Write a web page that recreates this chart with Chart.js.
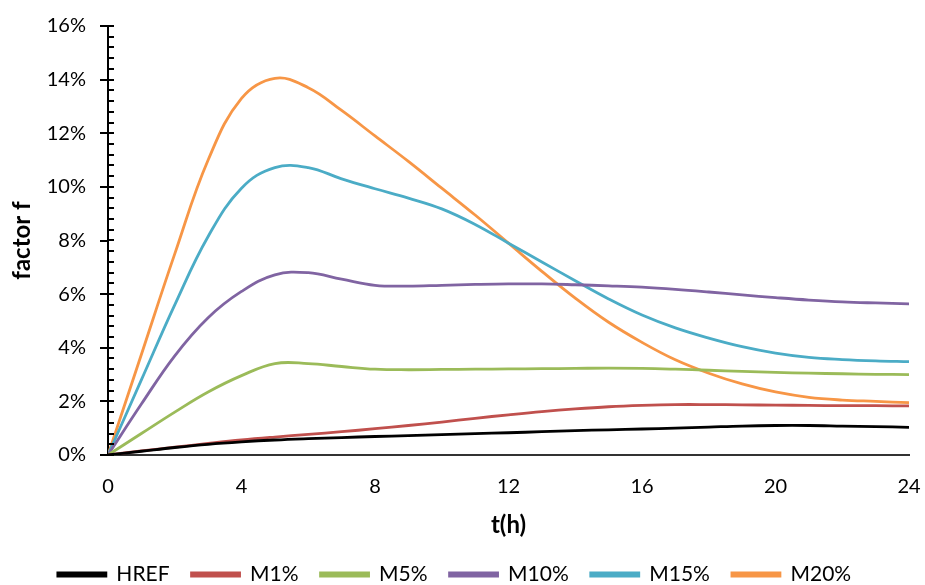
<!DOCTYPE html>
<html>
<head>
<meta charset="utf-8">
<script src="https://cdn.jsdelivr.net/npm/chart.js@4.4.1/dist/chart.umd.min.js"></script>
<style>
  html, body { margin: 0; padding: 0; background: #ffffff; }
  #wrap { width: 925px; height: 585px; }
</style>
</head>
<body>
<div id="wrap"><canvas id="c" width="925" height="585"></canvas></div>
<script>
// sampling times (hours)
const hours = [0, 1, 2, 3, 4, 5, 6, 7, 8, 9, 10, 11, 12, 13, 14, 15, 16, 17, 18, 19, 20, 21, 22, 23, 24];

// factor f in percent, one array per mix
const href = [0, 0.14, 0.28, 0.40, 0.49, 0.56, 0.61, 0.65, 0.69, 0.72, 0.76, 0.80, 0.83, 0.87, 0.91, 0.94, 0.97, 1.00, 1.04, 1.08, 1.10, 1.10, 1.08, 1.06, 1.03];
const m1   = [0, 0.15, 0.29, 0.43, 0.56, 0.67, 0.77, 0.87, 0.98, 1.10, 1.23, 1.37, 1.50, 1.62, 1.72, 1.80, 1.85, 1.88, 1.88, 1.87, 1.86, 1.85, 1.84, 1.84, 1.83];
const m5   = [0, 0.80, 1.60, 2.35, 2.96, 3.41, 3.41, 3.30, 3.20, 3.18, 3.19, 3.20, 3.21, 3.22, 3.23, 3.24, 3.23, 3.20, 3.16, 3.12, 3.08, 3.05, 3.03, 3.01, 3.00];
const m10  = [0, 1.90, 3.70, 5.12, 6.10, 6.72, 6.80, 6.56, 6.33, 6.30, 6.33, 6.36, 6.38, 6.38, 6.35, 6.31, 6.26, 6.18, 6.08, 5.97, 5.87, 5.78, 5.71, 5.67, 5.64];
const m15  = [0, 2.80, 5.60, 8.15, 9.95, 10.72, 10.72, 10.30, 9.93, 9.58, 9.18, 8.60, 7.90, 7.20, 6.50, 5.82, 5.22, 4.74, 4.36, 4.04, 3.80, 3.64, 3.56, 3.51, 3.48];
const m20  = [0, 3.75, 7.50, 11.00, 13.30, 14.05, 13.70, 12.85, 11.90, 10.95, 9.95, 8.95, 7.90, 6.85, 5.85, 4.95, 4.20, 3.55, 3.05, 2.65, 2.35, 2.15, 2.05, 2.00, 1.95];

const seriesNames = ['HREF', 'M1%', 'M5%', 'M10%', 'M15%', 'M20%'];
const seriesData = [href, m1, m5, m10, m15, m20];
const seriesColors = ['#000000', '#C0504D', '#9BBB59', '#8064A2', '#4BACC6', '#F79646'];

// y axis ticks (percent)
const yMin = 0, yMax = 16, yStep = 2, yMinorStep = 0.4;
// x axis ticks (hours)
const xMin = 0, xMax = 24, xStep = 4;

const FONT = "'Lato', 'Open Sans', 'DejaVu Sans', sans-serif";

const datasets = seriesNames.map((name, i) => ({
  label: name,
  data: hours.map((h, k) => ({ x: h, y: seriesData[i][k] })),
  borderColor: seriesColors[i],
  backgroundColor: seriesColors[i],
  borderWidth: 2.8,
  pointRadius: 0,
  pointHoverRadius: 0,
  tension: 0.4,
  fill: false
}));

// short inward minor ticks on the value axis
const minorTicks = {
  id: 'minorTicks',
  afterDatasetsDraw(chart) {
    const y = chart.scales.y;
    const ctx = chart.ctx;
    const x0 = chart.chartArea.left;
    ctx.save();
    ctx.strokeStyle = '#000000';
    ctx.lineWidth = 2;
    for (let v = yMin; v <= yMax + 1e-9; v += yMinorStep) {
      const py = Math.round(y.getPixelForValue(v));
      ctx.beginPath();
      ctx.moveTo(x0, py);
      ctx.lineTo(x0 + 6, py);
      ctx.stroke();
    }
    ctx.restore();
  }
};

new Chart(document.getElementById('c'), {
  type: 'line',
  data: { datasets },
  plugins: [minorTicks],
  options: {
    responsive: false,
    animation: false,
    layout: { padding: { top: 9, right: 16, left: 0, bottom: -10 } },
    plugins: {
      legend: {
        position: 'bottom',
        labels: {
          color: '#000000',
          font: { family: FONT, size: 21 },
          boxWidth: 48,
          boxHeight: 3,
          padding: 22
        }
      },
      tooltip: { enabled: false }
    },
    scales: {
      x: {
        type: 'linear',
        min: xMin,
        max: xMax,
        border: { display: true, color: '#333333', width: 2 },
        grid: { display: false, drawTicks: false },
        ticks: {
          stepSize: xStep,
          color: '#000000',
          font: { family: FONT, size: 20 },
          padding: 20,
          maxRotation: 0
        },
        title: {
          display: true,
          text: 't(h)',
          color: '#000000',
          font: { family: FONT, size: 24, weight: 'bold' },
          padding: { top: 6, bottom: 2 }
        },
        afterFit(scale) {
          scale.height = 87;
          scale.paddingLeft = 0;
          scale.paddingRight = 16;
        }
      },
      y: {
        min: yMin,
        max: yMax,
        border: { display: true, color: '#000000', width: 2 },
        grid: { drawOnChartArea: false, drawTicks: true, tickLength: 8, color: '#000000', lineWidth: 2 },
        ticks: {
          stepSize: yStep,
          color: '#000000',
          font: { family: FONT, size: 20 },
          padding: 14,
          callback: v => v + '%'
        },
        title: {
          display: true,
          text: 'factor f',
          color: '#000000',
          font: { family: FONT, size: 24, weight: 'bold' },
          padding: { top: 8, bottom: 0 }
        },
        afterFit(scale) { scale.width = 108; }
      }
    }
  }
});
</script>
</body>
</html>
